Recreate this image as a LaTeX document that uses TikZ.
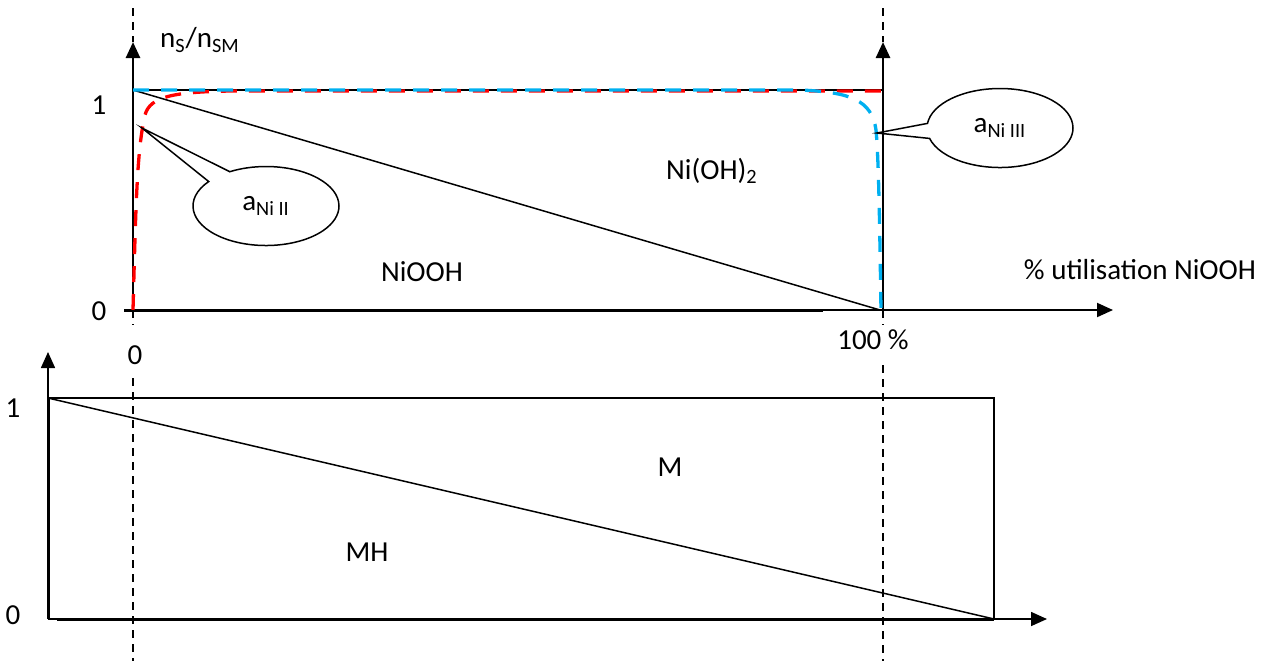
\documentclass[tikz,border=0pt]{standalone}
\usepackage{fontspec}
\setmainfont{Carlito}
\usetikzlibrary{arrows.meta, shapes.callouts, positioning}
\definecolor{curvered}{HTML}{FF0000}
\definecolor{curveblue}{HTML}{00B0F0}

\begin{document}
\begin{tikzpicture}[
  x=0.5pt, y=-0.5pt,
  font=\fontsize{14.5}{17}\selectfont,
  % axes and boxes
  axisln/.style={-{Triangle[length=8pt,width=7pt]}, line width=1.3pt},
  thickln/.style={line width=1.5pt},
  thinln/.style={line width=0.75pt},
  % vertical guides at 0 and 100 %
  guide/.style={dash pattern=on 4pt off 3pt, line width=0.6pt},
  % dashed activity curves
  curve/.style={draw=#1, dash pattern=on 8pt off 6pt, line width=1.65pt},
  % speech bubbles
  bubble/.style={ellipse callout, draw, thinln, minimum width=73pt,
                 minimum height=39.5pt, inner sep=0pt, callout pointer arc=22},
  lab/.style={inner sep=1pt},
]
\useasboundingbox (0,0) rectangle (1264,661);

% ── TOP CHART : NiOOH / Ni(OH)2 ────────────────────
\coordinate (o)    at (133,310);
\coordinate (one)  at (133,90);
\coordinate (ytip) at (133,42);
\coordinate (e)    at (883,310);
\coordinate (eone) at (883,90);
\coordinate (etip) at (883,42);
\coordinate (x0)   at (124,310);
\coordinate (xmid) at (823,310);
\coordinate (xtip) at (1113,310);
\coordinate (dend) at (880,310);

\draw[thinln] (one) -- (eone);
\draw[thinln] (one) -- (dend);
\draw[axisln, line width=1pt] (x0) -- (xtip);
\draw[thickln] (x0) -- (xmid);
\draw[axisln] (o) -- (ytip);
\draw[axisln] (e) -- (etip);

% dashed activity curves
\draw[curve=curvered] (o) .. controls (136,200) and (137,150) .. (145,115)
  .. controls (150,96) and (175,92) .. (230,91) -- (883,91);
\draw[curve=curveblue] (one) -- (800,90) .. controls (850,92) and (872,100) .. (876,130)
  .. controls (879,160) and (880,250) .. (881,310);

% labels
\node[lab] (yname) at (200,40) {n\textsubscript{S}/n\textsubscript{SM}};
\node[lab] (yone)  at (99,105) {1};
\node[lab] (yzero) at (99,311) {0};
\node[lab] (xzero) at (135,355) {0};
\node[lab] (xcent) at (873,340) {100 \%};
\node[lab] (nioh)  at (712,171) {Ni(OH)\textsubscript{2}};
\node[lab] (niooh) at (422,272) {NiOOH};
\node[lab] (xname) at (1140,270) {\% utilisation NiOOH};

% bubbles
\coordinate (tipII)  at (142,128);
\coordinate (tipIII) at (877,133);
\node[bubble, callout absolute pointer={(tipII)}]  (bII)  at (266,206) {a\textsubscript{Ni II}};
\node[bubble, callout absolute pointer={(tipIII)}] (bIII) at (1000,128) {a\textsubscript{Ni III}};

% ── BOTTOM CHART : MH / M ────────────────────────
\coordinate (bo)    at (48,619);
\coordinate (btop)  at (48,398);
\coordinate (bytip) at (48,352);
\coordinate (bx0)   at (57,619);
\coordinate (bxtip) at (1047,619);
\coordinate (bcor)  at (994,398);
\coordinate (bend)  at (994,619);

\draw[axisln, line width=0.8pt] (bo) -- (bytip);
\draw[axisln, line width=0.8pt] (bo) -- (bxtip);
\draw[thickln] (btop) -- (bo);
\draw[thickln] (bx0) -- (bend);
\draw[thinln] (btop) -- (bcor) -- (bend);
\draw[thinln] (btop) -- (bend);

\node[lab] (bone)  at (13,408) {1};
\node[lab] (bzero) at (13,615) {0};
\node[lab] (mlab)  at (670,467) {M};
\node[lab] (mhlab) at (367,552) {MH};

% ── GUIDES at 0 and 100 % ────────────────────────
\foreach \gx/\gb in {133/378, 883/365} {
  \draw[guide] (\gx,8) -- (\gx,42);
  \draw[guide] (\gx,310) -- (\gx,325);
  \draw[guide] (\gx,\gb) -- (\gx,661);
}

\end{tikzpicture}
\end{document}
